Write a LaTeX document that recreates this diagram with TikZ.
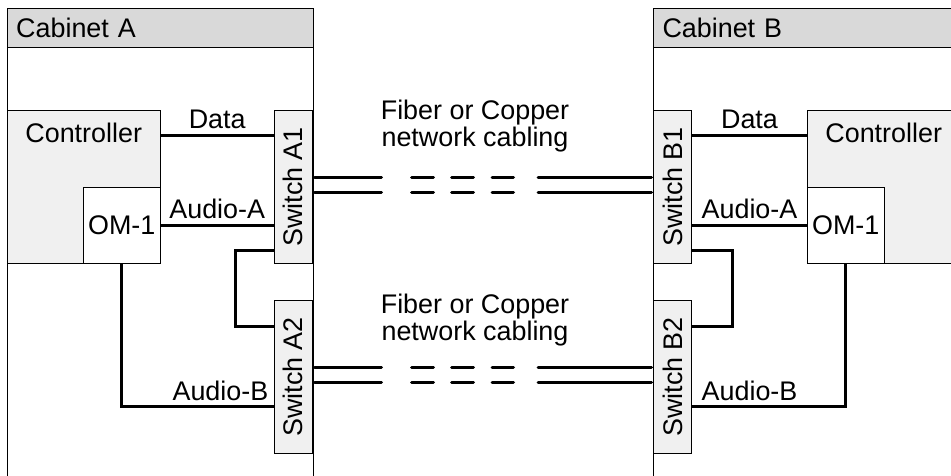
\documentclass[tikz,border=0pt]{standalone}
\usepackage{fontspec}
\setmainfont{Liberation Sans}
\usetikzlibrary{positioning,calc}
\definecolor{headgray}{RGB}{217,217,217}
\definecolor{boxgray}{RGB}{240,240,240}

\begin{document}
\begin{tikzpicture}[x=1pt,y=1pt,
    font=\fontsize{26.9}{26.7}\selectfont,
    box/.style={draw,line width=1pt,inner sep=0pt},
    cabinet/.style={box,minimum width=306.3pt,minimum height=500pt,anchor=north west},
    cabhead/.style={box,fill=headgray,minimum height=38.4pt,text width=288.3pt,
        inner xsep=9pt,align=left,anchor=north west},
    ctrl/.style={box,fill=boxgray,minimum width=153pt,minimum height=153.3pt},
    om/.style={box,fill=white,minimum width=77pt,minimum height=76.3pt},
    switchbox/.style={box,fill=boxgray,minimum width=38.3pt,minimum height=153pt},
    link/.style={line width=3pt},
    fiber/.style={line width=3pt,line cap=round,shorten <=1.5pt,shorten >=1.5pt,
        dash pattern=on 67pt off 30pt on 22pt off 18pt on 22pt off 18.7pt on 21.3pt off 24.7pt on 150pt off 1pt},
    lbl/.style={inner sep=0pt,anchor=base}]
    \path[use as bounding box,clip] (0,0) rectangle (951,475);

    % cabinets
    \node[cabinet] (cabA) at (6.7,466.7) {};
    \node[cabhead] (cabAhead) at (6.7,466.7) {Cabinet A};
    \node[cabinet] (cabB) at (653,466.7) {};
    \node[cabhead] (cabBhead) at (653,466.7) {Cabinet B};

    % controllers
    \node[ctrl,anchor=north west] (ctrlA) at (6.7,365) {};
    \node[lbl] (ctrlAtext) at ($(ctrlA.north)+(0,-32)$) {Controller};
    \node[om,anchor=south east] (omA) at (ctrlA.south east) {OM-1};
    \node[ctrl,anchor=north west] (ctrlB) at (806.7,365) {};
    \node[lbl] (ctrlBtext) at ($(ctrlB.north)+(0,-32)$) {Controller};
    \node[om,anchor=south west] (omB) at (ctrlB.south west) {OM-1};

    % switches
    \node[switchbox,anchor=north east] (swA1) at (313,365) {\rotatebox{90}{Switch A1}};
    \node[switchbox,anchor=north east] (swA2) at (313,175) {\rotatebox{90}{Switch A2}};
    \node[switchbox,anchor=north west] (swB1) at (653,365) {\rotatebox{90}{Switch B1}};
    \node[switchbox,anchor=north west] (swB2) at (653,175) {\rotatebox{90}{Switch B2}};

    % data and audio links, cabinet A
    \draw[link] (ctrlA.east |- 0,339.3) -- (swA1.west |- 0,339.3)
        node[lbl,midway,yshift=7pt] (dataA) {Data};
    \draw[link] (omA.east |- 0,249.3) -- (swA1.west |- 0,249.3)
        node[lbl,midway,yshift=7pt] (audioAa) {Audio-A};
    \draw[link] (omA.south) |- (swA2.west |- 0,68.3);
    \node[lbl,anchor=base east] (audioBa) at (268.5,74.5) {Audio-B};
    \draw[link] (swA1.west |- 0,224.3) -- ++(-38.3,0) |- (swA2.west |- 0,149);

    % data and audio links, cabinet B
    \draw[link] (swB1.east |- 0,339.3) -- (ctrlB.west |- 0,339.3)
        node[lbl,midway,yshift=7pt] (dataB) {Data};
    \draw[link] (swB1.east |- 0,249.3) -- (omB.west |- 0,249.3)
        node[lbl,midway,yshift=7pt] (audioAb) {Audio-A};
    \draw[link] (swB2.east |- 0,68.3) -| (omB.south);
    \node[lbl,anchor=base west] (audioBb) at (701.5,74.5) {Audio-B};
    \draw[link] (swB1.east |- 0,224.3) -- ++(40,0) |- (swB2.east |- 0,149);

    % network cabling between cabinets
    \foreach \s/\t in {swA1/swB1,swA2/swB2} {
        \foreach \dy in {9.7,-5.3} {
            \draw[fiber] ([yshift=\dy pt]\s.east) -- ([yshift=\dy pt]\t.west);
        }
    }
    \node[align=center,inner sep=0pt] (cableA) at (475,349) {Fiber or Copper\\network cabling};
    \node[align=center,inner sep=0pt] (cableB) at (475,155) {Fiber or Copper\\network cabling};
\end{tikzpicture}
\end{document}
